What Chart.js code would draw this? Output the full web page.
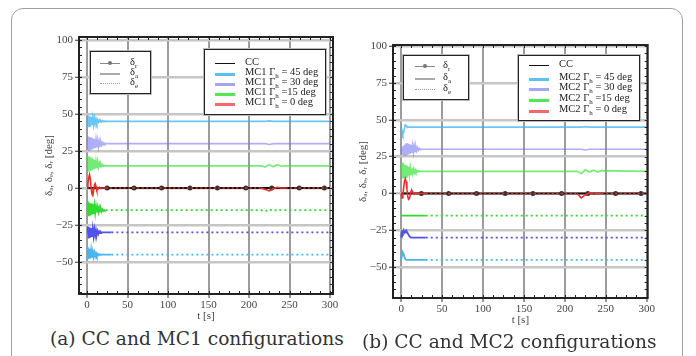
<!DOCTYPE html>
<html>
<head>
<meta charset="utf-8">
<script src="https://cdn.jsdelivr.net/npm/chart.js@4.4.0/dist/chart.umd.min.js"></script>
<style>
  body { margin: 0; background: #fff; width: 696px; height: 356px; overflow: hidden; position: relative; }
  .frame { position: absolute; left: 11px; top: 8px; width: 670px; height: 380px; border: 1px solid #a0a0a0; border-radius: 12px; }
  canvas { position: absolute; }
  .legend { position: absolute; background: #fff; border: 1.5px solid #222; box-shadow: 0 0 0 1px #bbb; font-family: "Liberation Serif", serif; font-size: 10.5px; color: #222; }
  .row { position: absolute; white-space: nowrap; }
  .swatch { position: absolute; height: 0; }
  .dot { position: absolute; width: 4px; height: 4px; border-radius: 2px; background: #777; }
  .legend sub { font-size: 7px; }
  .cap { position: absolute; font-family: "DejaVu Serif", serif; font-size: 18.6px; color: #333; white-space: nowrap; }
</style>
</head>
<body>
<div class="frame"></div>
<canvas id="chartA" width="305" height="300" style="left:35px;top:28px"></canvas>
<canvas id="chartB" width="307" height="296" style="left:349px;top:36px"></canvas>
<div class="cap" style="left:50px;top:328px">(a) CC and MC1 configurations</div>
<div class="cap" style="left:362px;top:331px">(b) CC and MC2 configurations</div>
<script>
// time samples (s)
const tFast = [0, 1, 2, 3, 4, 5, 6, 7, 8, 9, 10, 11, 12, 13, 14, 15, 16, 17, 18, 19, 20, 21, 22, 23, 24];
const tSlow = [30, 215, 220, 225, 230, 235, 240, 245, 300];
const ccTimes = [0, 24.7, 58, 92, 127, 161, 196, 228, 262, 293, 300];
const ccValues = [0, 0, 0, 0, 0, 0, 0, 0, 0, 0, 0];

// MC1 responses (deg)
const mc1Pos45 = [45, 49, 41, 48.5, 41.5, 48, 42.5, 47.5, 43, 47, 43.5, 46.5, 44, 46, 44.5, 45.7, 44.6, 45.5, 44.8, 45.3, 44.9, 45.2, 45, 45.1, 45];
const mc1Pos30 = [30, 35, 25, 34.5, 25.5, 34, 26, 33.5, 26.5, 33, 27, 32.5, 27.5, 32, 28, 31.5, 28.5, 31, 29, 30.6, 29.4, 30.3, 29.7, 30.1, 30];
const mc1Pos15 = [15, 22, 11, 21, 11.5, 20.5, 12, 19.5, 12.5, 19, 13, 18, 13.5, 17.5, 14, 16.8, 14.4, 16.2, 14.7, 15.6, 14.8, 15.3, 15, 15.1, 15];
const mc1Zero = [0, 3, 7, 9, 6, 0, -4, -5, -2, 2, 3, 1, -1.5, -1, 0, 0.5, 0, 0, 0, 0, 0, 0, 0, 0, 0];
const mc1Neg15 = [-15, -9, -19, -10, -18.5, -10.5, -18, -11, -17.5, -12, -17, -12.5, -16.5, -13, -16.2, -13.5, -16, -14, -15.8, -14.4, -15.4, -14.8, -15.2, -15, -15];
const mc1Neg30 = [-30, -26, -34, -26.5, -33.5, -27, -33, -27.5, -32.5, -28, -32, -28.5, -31.5, -29, -31, -29.5, -30.5, -29.7, -30.3, -30];
const mc1Neg45 = [-45, -40, -48, -41, -47.5, -42, -47, -43, -46.5, -43.5, -46, -44, -45.8, -44.5, -45.4, -44.8, -45.2, -45];
const mc1Pos45Tail = [45, 45, 45, 45.4, 45, 45, 45, 45, 45];
const mc1Pos30Tail = [30, 30, 30, 29.4, 30, 30, 30, 30, 30];
const mc1Pos15Tail = [15, 15, 14.2, 15.8, 14.4, 15.7, 14.7, 15, 15];
const mc1ZeroTail = [0, 0, -1, -2, -0.5, 0.5, 0, 0, 0];
const mc1Neg15Tail = [-15, -15, -15.8, -14.4, -15.6, -14.5, -15, -15, -15];
const mc1Neg30Tail = [-30, -30, -30, -30, -30, -30, -30, -30, -30];
const mc1Neg45Tail = [-45, -45, -45, -45, -45, -45, -45, -45, -45];

// MC2 responses (deg)
const mc2Pos45 = [45, 42, 40, 41.5, 44, 46.5, 46, 45.3, 45];
const mc2Pos30 = [30, 27, 32, 26, 33, 25.5, 34, 26, 34, 26.5, 33.5, 27, 33, 27.5, 32.5, 28, 32, 28.5, 31.5, 29, 31, 29.5, 30.5, 29.8, 30];
const mc2Pos15 = [15, 21, 10, 20, 10.5, 19.5, 11, 19, 12, 18, 12.5, 17.5, 13, 17, 13.5, 16.5, 14, 16, 14.5, 15.6, 14.7, 15.3, 15, 15.1, 15];
const mc2Zero = [0, -3, -2, 4, 8, 10, 8, 3, -2, -4, -3.5, -1, 1.5, 2, 1, 0, -0.5, 0, 0, 0];
const mc2Neg15 = [-15];
const mc2Neg30 = [-30, -26, -27, -25, -26.5, -25.5, -26.5, -26, -27, -28, -29, -29.5, -30];
const mc2Neg45 = [-45, -42, -40, -41, -43, -44.5, -45];
const mc2Pos45Tail = [45, 45, 45, 45.3, 45, 45, 45, 45, 45];
const mc2Pos30Tail = [30, 30, 30, 29.5, 30, 30, 30, 30, 30];
const mc2Pos15Tail = [15, 15, 13.5, 16, 14.5, 15.8, 14.6, 15.5, 15];
const mc2ZeroTail = [0, 0, -3, -1, 0.5, -0.5, 0, 0, 0];
const mc2Neg15Tail = [-15, -15, -15, -15, -15, -15, -15, -15, -15];
const mc2Neg30Tail = [-30, -30, -30, -30, -30, -30, -30, -30, -30];
const mc2Neg45Tail = [-45, -45, -45, -45, -45, -45, -45, -45, -45];

const yTicks = [-50, -25, 0, 25, 50, 75, 100];
const xTicks = [0, 50, 100, 150, 200, 250, 300];

const skyBlue = '#45b6f2', blue = '#5252ee', green = '#30dc30', red = '#ee2c2c';
const skyBlueLight = 'rgba(60,178,240,0.75)', blueLight = 'rgba(120,120,245,0.6)', greenLight = 'rgba(60,225,60,0.7)';

function pts(early, tail) {
  return tFast.slice(0, early.length).map((t, i) => ({x: t, y: early[i]}))
    .concat(tSlow.map((t, i) => ({x: t, y: tail[i]})));
}

const dotted = ctx => ctx.p0.parsed.x >= 23 ? [2, 3] : undefined;
const redDash = ctx => (ctx.p0.parsed.x >= 23 && !(ctx.p0.parsed.x >= 214 && ctx.p0.parsed.x < 245)) ? [2, 2.5] : undefined;

function buildSets(s) {
  const line = (data, color, width, dash) => ({
    data, borderColor: color, borderWidth: width, pointRadius: 0,
    tension: 0, segment: dash ? {borderDash: dash} : {}
  });
  return [
    line(pts(s.zero, s.zeroTail), red, 1.6, redDash),
    {
      data: ccTimes.map((t, i) => ({x: t, y: ccValues[i]})),
      borderColor: '#111', borderWidth: 2, backgroundColor: '#333',
      pointRadius: c => (c.dataIndex === 0 || c.dataIndex === ccTimes.length - 1) ? 0 : 2.5,
      pointBorderWidth: 0
    },
    line(pts(s.pos45, s.pos45Tail), skyBlueLight, 1.7),
    line(pts(s.pos30, s.pos30Tail), blueLight, 1.7),
    line(pts(s.pos15, s.pos15Tail), greenLight, 1.7),
    line(pts(s.neg15, s.neg15Tail), green, 1.8, dotted),
    line(pts(s.neg30, s.neg30Tail), blue, 1.8, dotted),
    line(pts(s.neg45, s.neg45Tail), skyBlue, 1.8, dotted)
  ];
}

const frameBox = {
  id: 'frameBox',
  afterDatasetsDraw(chart) {
    const {ctx, chartArea: a, scales: {x, y}} = chart;
    ctx.save();
    ctx.strokeStyle = '#222';
    ctx.lineWidth = 1;
    ctx.beginPath();
    for (let v = -70; v <= 100; v += 5) {
      const py = Math.round(y.getPixelForValue(v)) + 0.5;
      ctx.moveTo(a.left, py); ctx.lineTo(a.left + 3, py);
      ctx.moveTo(a.right, py); ctx.lineTo(a.right - 3, py);
    }
    for (let v = 0; v <= 300; v += 12.5) {
      const px = Math.round(x.getPixelForValue(v)) + 0.5;
      ctx.moveTo(px, a.top); ctx.lineTo(px, a.top + 3);
      ctx.moveTo(px, a.bottom); ctx.lineTo(px, a.bottom - 3);
    }
    ctx.stroke();
    ctx.lineWidth = 2;
    ctx.strokeRect(a.left, a.top, a.right - a.left, a.bottom - a.top);
    ctx.restore();
  }
};

const tickFont = {family: '"Liberation Serif", "DejaVu Serif", serif', size: 11};

function makeChart(id, sets, yMin, yMax, xMax, padTop) {
  return new Chart(document.getElementById(id), {
    type: 'line',
    data: {datasets: sets},
    plugins: [frameBox],
    options: {
      responsive: false,
      animation: false,
      devicePixelRatio: 1,
      layout: {padding: {top: padTop, right: 7, left: 0, bottom: 0}},
      plugins: {legend: {display: false}, tooltip: {enabled: false}},
      scales: {
        x: {
          type: 'linear', min: -10, max: xMax,
          afterBuildTicks: sc => { sc.ticks = xTicks.map(v => ({value: v})); },
          afterFit: sc => { sc.height = 34; },
          ticks: {font: tickFont, color: '#444', padding: 1, maxRotation: 0},
          grid: {color: '#9c9c9c', lineWidth: 2, tickLength: 4, tickColor: '#333', tickWidth: 1},
          border: {display: false},
          title: {display: true, text: 't [s]', font: tickFont, color: '#444', padding: {top: 0, bottom: 5}}
        },
        y: {
          type: 'linear', min: yMin, max: yMax,
          afterBuildTicks: sc => { sc.ticks = yTicks.map(v => ({value: v})); },
          afterFit: sc => { sc.width = 44; },
          ticks: {font: tickFont, color: '#444', padding: 2, callback: v => String(v).replace('-', '\u2212')},
          grid: {color: '#c6c6c6', lineWidth: 2.5, tickLength: 4, tickColor: '#333', tickWidth: 1},
          border: {display: false},
          title: {display: true, text: 'δₐ, δₑ, δᵣ [deg]', font: tickFont, color: '#444', padding: {top: 8, bottom: 0}}
        }
      }
    }
  });
}

makeChart('chartA', buildSets({
  pos45: mc1Pos45, pos30: mc1Pos30, pos15: mc1Pos15, zero: mc1Zero, neg15: mc1Neg15, neg30: mc1Neg30, neg45: mc1Neg45,
  pos45Tail: mc1Pos45Tail, pos30Tail: mc1Pos30Tail, pos15Tail: mc1Pos15Tail, zeroTail: mc1ZeroTail,
  neg15Tail: mc1Neg15Tail, neg30Tail: mc1Neg30Tail, neg45Tail: mc1Neg45Tail
}), -71.6, 102, 303.7, 9);

makeChart('chartB', buildSets({
  pos45: mc2Pos45, pos30: mc2Pos30, pos15: mc2Pos15, zero: mc2Zero, neg15: mc2Neg15, neg30: mc2Neg30, neg45: mc2Neg45,
  pos45Tail: mc2Pos45Tail, pos30Tail: mc2Pos30Tail, pos15Tail: mc2Pos15Tail, zeroTail: mc2ZeroTail,
  neg15Tail: mc2Neg15Tail, neg30Tail: mc2Neg30Tail, neg45Tail: mc2Neg45Tail
}), -70.9, 100.7, 301.2, 9);

// legends
const styleNames = ['δ<sub>r</sub>', 'δ<sub>a</sub>', 'δ<sub>e</sub>'];
const styleLines = ['1.5px solid #888', '2px solid #aaa', '1.5px dotted #999'];
const caseColors = ['#111', '#5cc0f2', '#a6a6f7', '#52e852', '#f26b6b'];
const mc1Names = ['CC', 'MC1 Γ<sub>h</sub> = 45 deg', 'MC1 Γ<sub>h</sub> = 30 deg', 'MC1 Γ<sub>h</sub> =15 deg', 'MC1 Γ<sub>h</sub> = 0 deg'];
const mc2Names = ['CC', 'MC2 Γ<sub>h</sub> = 45 deg', 'MC2 Γ<sub>h</sub> = 30 deg', 'MC2 Γ<sub>h</sub> =15 deg', 'MC2 Γ<sub>h</sub> = 0 deg'];

function legendBox(box, rows, names, lines, lineX, textX, dotRow) {
  const el = document.createElement('div');
  el.className = 'legend';
  Object.assign(el.style, {left: box[0] + 'px', top: box[1] + 'px', width: box[2] + 'px', height: box[3] + 'px'});
  names.forEach((n, i) => {
    const sw = document.createElement('div');
    sw.className = 'swatch';
    Object.assign(sw.style, {left: lineX + 'px', width: '20px', top: rows[i] + 'px', borderTop: lines[i]});
    el.appendChild(sw);
    if (i === dotRow) {
      const d = document.createElement('div');
      d.className = 'dot';
      Object.assign(d.style, {left: (lineX + 8) + 'px', top: (rows[i] - 2) + 'px'});
      el.appendChild(d);
    }
    const tx = document.createElement('div');
    tx.className = 'row';
    tx.innerHTML = n;
    Object.assign(tx.style, {left: textX + 'px', top: (rows[i] - 7) + 'px'});
    el.appendChild(tx);
  });
  document.body.appendChild(el);
}

const caseLines = caseColors.map((c, i) => (i === 0 ? '1.5px' : '3px') + ' solid ' + c);
legendBox([90, 51, 59, 41], [11, 21, 31], styleNames, styleLines, 9, 39, 0);
legendBox([204, 49, 120, 64], [13, 23, 33, 43, 53], mc1Names, caseLines, 10, 40, -1);
legendBox([403, 55, 64, 43], [10, 22, 33], styleNames, styleLines, 11, 39, 0);
legendBox([518, 55, 120, 64], [9, 22, 32, 43, 54], mc2Names, caseLines, 10, 40, -1);
</script>
</body>
</html>
